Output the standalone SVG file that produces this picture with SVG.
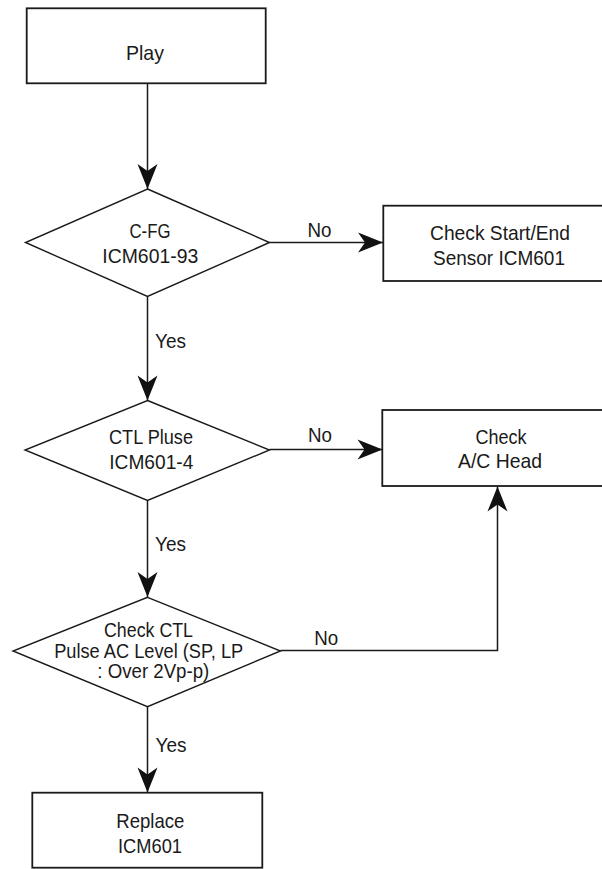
<svg xmlns="http://www.w3.org/2000/svg" width="602" height="869" viewBox="0 0 602 869">
<style>
.box{fill:#fff;stroke:#1a1a1a;stroke-width:1.8}
.dia{fill:#fff;stroke:#1a1a1a;stroke-width:1.4}
.ln{fill:none;stroke:#1a1a1a;stroke-width:1.5}
text{font-family:"Liberation Sans Narrow","Liberation Sans",Arial,sans-serif;font-size:21px;fill:#1a1a1a;text-anchor:middle}
</style>
<defs>
<marker id="arr" viewBox="-26 -11 27 22" markerWidth="27" markerHeight="22" refX="0" refY="0" orient="auto" markerUnits="userSpaceOnUse">
<path d="M0,0 L-25,-10 L-18,0 L-25,10 Z" fill="#111"/>
</marker>
</defs>
<rect width="602" height="869" fill="#fff"/>
<g id="connectors">
<line class="ln" x1="147.5" y1="83" x2="147.5" y2="189" marker-end="url(#arr)"/>
<line class="ln" x1="269.5" y1="242.5" x2="383" y2="242.5" marker-end="url(#arr)"/>
<line class="ln" x1="147.5" y1="296.5" x2="147.5" y2="400.5" marker-end="url(#arr)"/>
<line class="ln" x1="269.5" y1="449.5" x2="382.5" y2="449.5" marker-end="url(#arr)"/>
<line class="ln" x1="147.5" y1="500.5" x2="147.5" y2="597" marker-end="url(#arr)"/>
<polyline class="ln" points="280.5,650.5 497.5,650.5 497.5,486.5" marker-end="url(#arr)"/>
<line class="ln" x1="147.5" y1="706.5" x2="147.5" y2="792.5" marker-end="url(#arr)"/>
<text x="319.5" y="236.7" textLength="24" lengthAdjust="spacingAndGlyphs">No</text>
<text x="170.5" y="348" textLength="31" lengthAdjust="spacingAndGlyphs">Yes</text>
<text x="320" y="441.7" textLength="24" lengthAdjust="spacingAndGlyphs">No</text>
<text x="170.5" y="551" textLength="31" lengthAdjust="spacingAndGlyphs">Yes</text>
<text x="326.3" y="645" textLength="24" lengthAdjust="spacingAndGlyphs">No</text>
<text x="171" y="751.7" textLength="31" lengthAdjust="spacingAndGlyphs">Yes</text>
</g>
<g id="play">
<rect class="box" x="26.7" y="8.3" width="239" height="75"/>
<text x="145" y="60" textLength="38" lengthAdjust="spacingAndGlyphs">Play</text>
</g>
<g id="cfg">
<polygon class="dia" points="147.5,189 269.5,242.5 147.5,296.5 25.5,242.5"/>
<text x="150" y="237.7" textLength="41" lengthAdjust="spacingAndGlyphs">C-FG</text>
<text x="150.3" y="262.7" textLength="96" lengthAdjust="spacingAndGlyphs">ICM601-93</text>
</g>
<g id="sensor">
<rect class="box" x="383.3" y="205.7" width="240" height="75.3"/>
<text x="500" y="240" textLength="140" lengthAdjust="spacingAndGlyphs">Check Start/End</text>
<text x="499" y="265" textLength="132" lengthAdjust="spacingAndGlyphs">Sensor ICM601</text>
</g>
<g id="ctl">
<polygon class="dia" points="147.5,400.5 269.5,450 147.5,500.5 25,450"/>
<text x="151" y="444.3" textLength="84" lengthAdjust="spacingAndGlyphs">CTL Pluse</text>
<text x="151.3" y="469.3" textLength="84" lengthAdjust="spacingAndGlyphs">ICM601-4</text>
</g>
<g id="head">
<rect class="box" x="382.3" y="410" width="240" height="76"/>
<text x="501" y="444" textLength="51" lengthAdjust="spacingAndGlyphs">Check</text>
<text x="500" y="467.7" textLength="84" lengthAdjust="spacingAndGlyphs">A/C Head</text>
</g>
<g id="level">
<polygon class="dia" points="147.5,597.3 280.5,651 147.5,706.7 13,651"/>
<text x="148.5" y="636.7" textLength="89" lengthAdjust="spacingAndGlyphs">Check CTL</text>
<text x="148.7" y="658.3" textLength="189" lengthAdjust="spacingAndGlyphs">Pulse AC Level (SP, LP</text>
<text x="153.3" y="678.3" textLength="112" lengthAdjust="spacingAndGlyphs">: Over 2Vp-p)</text>
</g>
<g id="replace">
<rect class="box" x="32.3" y="792.7" width="230" height="75"/>
<text x="150.3" y="828.3" textLength="68" lengthAdjust="spacingAndGlyphs">Replace</text>
<text x="150" y="852.7" textLength="64" lengthAdjust="spacingAndGlyphs">ICM601</text>
</g>
</svg>
